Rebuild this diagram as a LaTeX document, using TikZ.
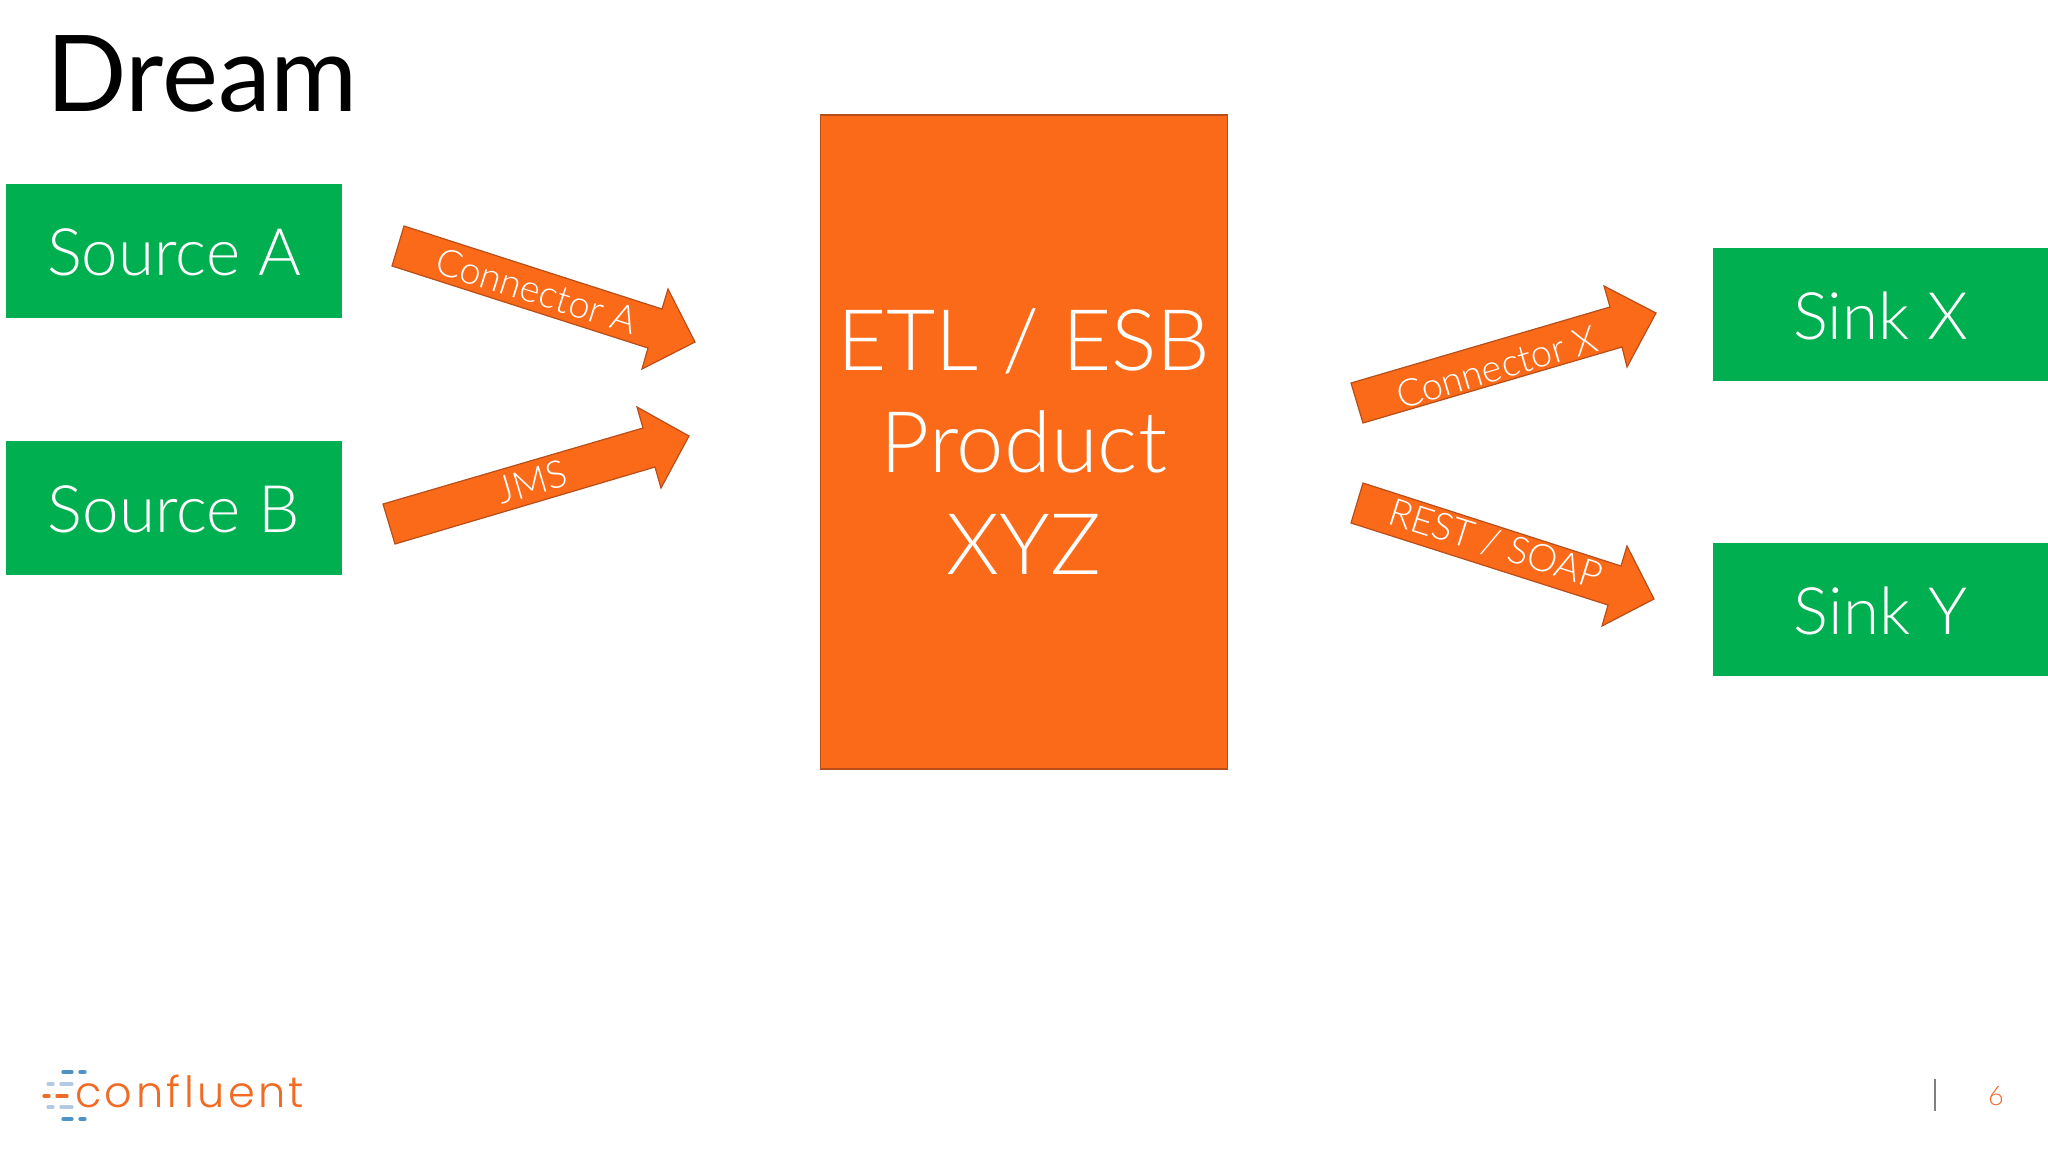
\documentclass[tikz,border=0pt]{standalone}
\usepackage{fontspec}
\setmainfont{Lato}
\newfontfamily\lightf{Lato Light}
\newfontfamily\logof[LetterSpace=8]{Poppins Light}
\definecolor{grn}{HTML}{00AF50}
\definecolor{org}{HTML}{FA6A18}
\definecolor{orgline}{HTML}{B84E1A}
\definecolor{dkblue}{HTML}{4F93C6}
\definecolor{ltblue}{HTML}{B4C9E4}
\definecolor{logoorg}{HTML}{F26B25}
\tikzset{
  greenbox/.style={fill=grn,draw=none,text=white,font=\lightf\fontsize{65.5}{70}\selectfont,inner sep=0pt},
  arrowshape/.style={fill=org,draw=orgline,line width=1.2pt,line join=miter},
  arrowlabel/.style={text=white,font=\lightf\fontsize{38}{40}\selectfont,inner sep=0pt},
  dkdash/.style={draw=dkblue,line width=3.2pt,line cap=round},
  ltdash/.style={draw=ltblue,line width=3.2pt,line cap=round},
  ordash/.style={draw=logoorg,line width=3.2pt,line cap=round}
}
\begin{document}
\begin{tikzpicture}[x=1pt,y=-1pt]
\useasboundingbox (0,0) rectangle (2048,1152);
\fill[white] (0,0) rectangle (2048,1152);
\node[anchor=base west,inner sep=0pt,font=\fontsize{106}{112}\selectfont,text=black] (title) at (46,111) {Dream};

\path[greenbox] (6,184) rectangle (342,318) node[midway,yshift=-1.5pt] (srcA) {Source A};
\path[greenbox] (6,441) rectangle (342,575) node[midway,yshift=-1.5pt] (srcB) {Source B};
\path[greenbox] (1713,248) rectangle (2048,381) node[midway,yshift=-1.5pt] (sinkX) {Sink X};
\path[greenbox] (1713,543) rectangle (2048,676) node[midway,yshift=-1.5pt] (sinkY) {Sink Y};

\draw[fill=org,draw=orgline,line width=1.2pt] (820.5,115) rectangle (1227.5,769);
\node[align=center,text=white,inner sep=0pt,font=\lightf\fontsize{85}{102}\selectfont] (etl) at (1024,442) {ETL / ESB\\Product\\XYZ};

\draw[arrowshape] (404,226)--(662,309)--(668,289)--(695,342)--(642,369)--(648,348)--(392,266)--cycle;
\node[arrowlabel,rotate=-17.5] (lblA) at (537,291) {Connector A};
\draw[arrowshape] (383,504)--(643,428)--(637,407)--(689,436)--(661,488)--(655,467)--(395,544)--cycle;
\node[arrowlabel,rotate=16.5] (lblJ) at (532,482) {JMS};
\draw[arrowshape] (1351,383)--(1610,307)--(1604,286)--(1656,313)--(1627,367)--(1622,347)--(1363,423)--cycle;
\node[arrowlabel,rotate=16.5] (lblX) at (1497,367) {Connector X};
\draw[arrowshape] (1363,483)--(1621,566)--(1627,546)--(1654,599)--(1602,626)--(1608,605)--(1351,523)--cycle;
\node[arrowlabel,rotate=-17.5] (lblR) at (1496,544) {REST / SOAP};

% logo
\draw[dkdash] (63,1072)--(72,1072); \draw[dkdash] (80,1072)--(85,1072);
\draw[ltdash] (48,1084)--(53,1084); \draw[ltdash] (61,1084)--(72,1084);
\draw[ordash] (44,1096)--(49,1096); \draw[ordash] (57,1096)--(67,1096);
\draw[ltdash] (48,1107)--(53,1107); \draw[ltdash] (61,1107)--(72,1107);
\draw[dkdash] (63,1119)--(72,1119); \draw[dkdash] (80,1119)--(85,1119);
\node[anchor=base west,inner sep=0pt,text=logoorg,font=\logof\fontsize{43}{44}\selectfont] (logo) at (75,1107) {confluent};

\draw[draw=gray,line width=2pt] (1935,1079)--(1935,1111);
\node[text=logoorg,inner sep=0pt,font=\lightf\fontsize{27}{28}\selectfont] (pg) at (1996,1096) {6};
\end{tikzpicture}
\end{document}
